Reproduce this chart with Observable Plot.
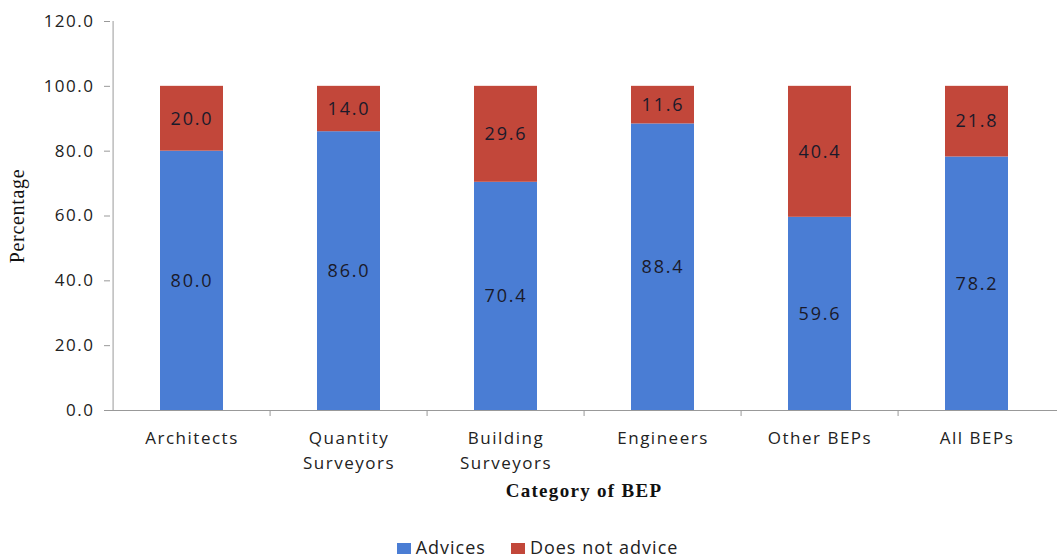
<!DOCTYPE html>
<html>
<head>
<meta charset="utf-8">
<script src="https://cdn.jsdelivr.net/npm/d3@7"></script>
<script src="https://cdn.jsdelivr.net/npm/@observablehq/plot@0.6"></script>
<style>
  html, body { margin: 0; padding: 0; background: #fff; overflow: hidden; }
  #chart { width: 1057px; }
  .legend { display: flex; justify-content: center; align-items: center; gap: 25px; font-family: "Open Sans", sans-serif; font-size: 18px; line-height: 19px; letter-spacing: 1px; color: #222; height: 37px; padding-top: 18px; box-sizing: border-box; margin-left: 18px; }
  .legend span.sw { display: inline-block; width: 14px; height: 11px; margin-right: 5px; vertical-align: middle; position: relative; top: -1px; }
  g[aria-label="y-axis tick label"] text { letter-spacing: 1.5px; }
  g[aria-label="x-axis tick label"] text { letter-spacing: 1.5px; }
  g[aria-description="bar values"] text { letter-spacing: 1.8px; }
  g[aria-description="x title"] text { letter-spacing: 1.3px; }
  g[aria-description="y title"] text { letter-spacing: 0.7px; }
</style>
</head>
<body>
<div id="chart"></div>
<script>
const categories = ["Architects", "Quantity Surveyors", "Building Surveyors", "Engineers", "Other BEPs", "All BEPs"];
const tickLabels = ["Architects", "Quantity\nSurveyors", "Building\nSurveyors", "Engineers", "Other BEPs", "All BEPs"];
const seriesNames = ["Advices", "Does not advice"];
const advices = [80.0, 86.0, 70.4, 88.4, 59.6, 78.2];
const doesNotAdvice = [20.0, 14.0, 29.6, 11.6, 40.4, 21.8];
const yTicks = [0, 20, 40, 60, 80, 100, 120];
const colors = ["#4A7DD4", "#C2473A"];

const data = [];
categories.forEach((c, i) => {
  data.push({category: c, series: seriesNames[0], value: advices[i]});
  data.push({category: c, series: seriesNames[1], value: doesNotAdvice[i]});
});

const labelMap = new Map(categories.map((c, i) => [c, tickLabels[i]]));
const halfStep = (1057 - 110) / categories.length / 2;

const chart = Plot.plot({
  width: 1057,
  height: 520,
  marginLeft: 110,
  marginRight: 0,
  marginTop: 21,
  marginBottom: 110,
  style: {fontFamily: "'Open Sans', sans-serif", fontSize: "15px", color: "#222"},
  x: {domain: categories, paddingInner: 0.6, paddingOuter: 0.3, label: null},
  y: {domain: [0, 120], label: null},
  color: {domain: seriesNames, range: colors},
  marks: [
    Plot.barY(data, Plot.stackY({x: "category", y: "value", fill: "series", order: seriesNames})),
    Plot.text(data, Plot.stackY({x: "category", y: "value", z: "series", order: seriesNames, text: d => d.value.toFixed(1), fill: "#1a1a2a", fontSize: 18, ariaDescription: "bar values"})),
    Plot.ruleY([0], {stroke: "#999"}),
    Plot.ruleX([categories[0]], {dx: -halfStep, y1: 0, y2: 120, stroke: "#999"}),
    Plot.ruleX(categories.slice(1), {dx: -halfStep, y1: 0, y2: 0, insetBottom: -6, stroke: "#999"}),
    Plot.axisY({ticks: yTicks, tickFormat: d => d.toFixed(1), tickSize: 6, tickPadding: 10, stroke: "#999", fontSize: 17, label: null}),
    Plot.axisX({tickSize: 0, tickPadding: 16, tickFormat: d => labelMap.get(d), fontSize: 17, label: null, lineHeight: 1.45}),
    Plot.text(["Category of BEP"], {frameAnchor: "bottom", dy: 86, fontFamily: "'Liberation Serif', serif", fontWeight: "bold", fontSize: 19, fill: "#111", ariaDescription: "x title"}),
    Plot.text(["Percentage"], {frameAnchor: "left", dx: -93, rotate: -90, textAnchor: "middle", fontFamily: "'Liberation Serif', serif", fontSize: 20, fill: "#111", ariaDescription: "y title"})
  ]
});
document.getElementById("chart").appendChild(chart);

const legend = document.createElement("div");
legend.className = "legend";
seriesNames.forEach((s, i) => {
  const item = document.createElement("div");
  item.innerHTML = `<span class="sw" style="background:${colors[i]}"></span>${s}`;
  legend.appendChild(item);
});
document.getElementById("chart").appendChild(legend);
</script>
</body>
</html>
